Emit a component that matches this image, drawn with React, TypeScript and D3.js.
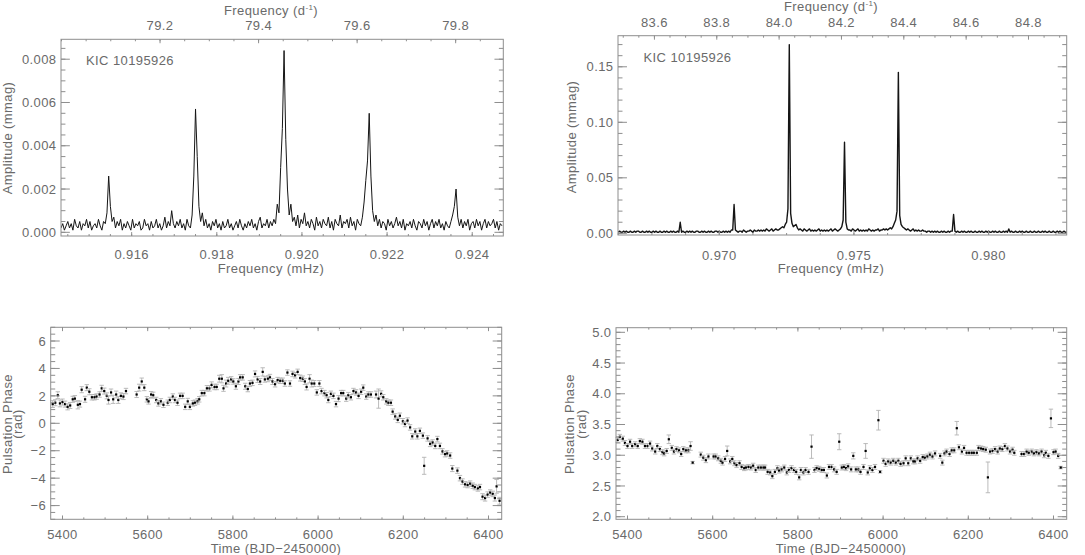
import React from "react";
import * as d3 from "d3";

const TEXT = "#6a6a6a";
const AXIS = "#8e8e8e";
const FONT = "'Liberation Sans', Arial, Helvetica, sans-serif";

// amplitude spectrum around 0.92 mHz, amplitudes in 1e-4 mmag
const spec1Start = 0.91434;
const spec1Step = 0.00004;
const spec1Amp = [
  2, 4, 1, 3, 5, 2, 4, 1, 6, 3, 2, 5, 1, 4, 3, 6, 2, 5, 1, 3, 4, 2, 6, 3, 1, 5,
  4, 9, 26, 12, 5, 7, 2, 5, 3, 6,
  1, 4, 2, 5, 3, 1, 6, 2, 4, 3, 5, 1, 2, 6, 3, 4, 1, 5, 2, 3, 6, 2, 4, 1, 3, 7, 2, 5, 3, 10, 4, 2, 5, 3, 6, 2, 4, 1, 6, 3, 2,
  8, 26, 57, 35, 12, 5, 9,
  3, 6, 2, 4, 1, 5, 3, 6, 2, 4, 1, 5, 2, 3, 6, 2, 4, 1, 3, 5, 2, 6, 3, 1, 4, 2, 5, 3, 6, 2, 4, 1, 5, 7, 2, 4, 3, 6, 2, 5, 3, 6, 4,
  13, 9, 30, 48, 84, 43, 20, 8, 13, 5,
  7, 3, 8, 2, 6, 4, 9, 3, 5, 2, 6, 4, 1, 7, 3, 5, 2, 6, 4, 3, 7, 2, 5, 1, 6, 4, 3, 8, 2, 5, 4, 6, 2, 7, 3, 5, 1, 6, 4, 3,
  7, 14, 24, 33, 55, 26, 10, 5, 8,
  3, 6, 2, 5, 4, 1, 6, 3, 5, 2, 4, 7, 3, 5, 2, 6, 1, 4, 3, 5, 2, 6, 3, 1, 5, 4, 2, 6, 3, 5, 1, 4, 6, 2, 5, 3, 6, 2, 4, 1, 5, 3, 2,
  5, 8, 12, 20, 7, 3,
  6, 2, 5, 3, 6, 1, 4, 5, 2, 6, 3, 5, 1, 4, 6, 2, 5, 3, 4, 6, 2, 5, 1, 4, 3,
];

// amplitude spectrum around 0.975 mHz, amplitudes in 1e-3 mmag
const spec2Start = 0.96625;
const spec2Step = 0.00005;
const spec2Amp = [
  1, 2, 1, 1, 2, 1, 2, 1, 1, 2, 1, 1, 2, 1, 2, 2, 1, 1, 2, 1, 1, 2, 1, 2, 1, 1, 2, 1, 2, 1, 1, 2, 1, 1, 2, 1, 2, 1, 1, 2, 1, 2, 1, 1, 2, 1,
  10,
  1, 2, 1, 1, 2, 1, 2, 1, 2, 1, 1, 2, 2, 1, 1, 2, 1, 2, 1, 1, 2, 1, 2, 1, 1, 2, 2, 1, 2, 1, 1, 2, 1, 2, 1, 2, 1, 3,
  3, 26, 3,
  2, 1, 2, 2, 1, 3, 2, 1, 2, 2, 3, 2, 1, 3, 2, 2, 3, 2, 3, 2, 3, 2, 4, 3, 2, 3, 4, 2, 3, 4, 3,
  3, 4, 5, 6, 5, 8, 10, 22, 170, 18, 9, 6, 7, 8, 5, 3,
  4, 3, 2, 4, 3, 2, 3, 4, 2, 3, 2, 3, 2, 3, 4, 2, 3, 2, 3, 2, 3, 2, 3, 4, 2, 3, 4, 3, 2, 3,
  4, 6, 12, 82, 10, 4, 3,
  3, 2, 4, 3, 2, 3, 4, 2, 3, 2, 3, 2, 3, 2, 4, 3, 2, 3, 2, 3, 3, 4, 2, 3, 3, 4, 3, 4,
  3, 4, 5, 4, 6, 9, 12, 20, 145, 16, 8, 6, 5, 4, 3,
  4, 3, 2, 3, 4, 2, 3, 2, 3, 2, 2, 3, 2, 2, 1, 2, 2, 1, 2, 1, 2, 1, 2, 1, 1, 2, 1, 2, 1, 1, 2, 1, 2,
  2, 17, 2,
  1, 2, 1, 1, 2, 1, 2, 1, 1, 2, 1, 2, 1, 1, 2, 1, 1, 2, 1, 2, 1, 1, 2, 1, 2, 1, 1, 2, 1, 2, 1, 1, 2, 1, 1, 2, 1, 2, 1,
  4,
  1, 2, 1, 1, 2, 1, 1, 2, 1, 2, 1, 1, 2, 1, 1, 2, 1, 1, 2, 1, 1, 2, 1, 1, 2, 1, 2, 1, 1, 2, 1, 1, 2, 1, 1, 2, 1, 2, 1, 1, 2, 1, 1, 2,
];

// pulsation phase vs time: [BJD-2450000, phase (rad), error]
const phase1: [number, number, number][] = [
  [5377, 1.4, 0.25], [5383, 1.5, 0.22], [5389, 2.05, 0.25], [5394, 1.45, 0.25], [5400, 1.55, 0.22], [5406, 1.4, 0.22],
  [5412, 1.2, 0.22], [5418, 1.3, 0.22], [5424, 1.75, 0.22], [5429, 1.8, 0.22], [5436, 1.35, 0.3], [5441, 1.4, 0.22],
  [5445, 2.45, 0.22], [5453, 1.75, 0.22], [5457, 2.6, 0.22], [5463, 2.3, 0.22], [5469, 1.9, 0.2], [5475, 1.9, 0.2],
  [5480, 1.95, 0.2], [5487, 2.1, 0.2], [5492, 2.55, 0.22], [5498, 2.35, 0.22], [5504, 2.0, 0.22], [5508, 1.7, 0.3],
  [5514, 2.25, 0.25], [5519, 1.75, 0.3], [5526, 2.1, 0.25], [5531, 1.7, 0.25], [5537, 2.0, 0.22], [5543, 1.95, 0.22],
  [5549, 2.35, 0.2],
  [5574, 2.1, 0.22], [5580, 2.6, 0.25], [5586, 3.05, 0.25], [5592, 2.6, 0.22], [5598, 1.75, 0.2], [5602, 1.6, 0.2],
  [5608, 2.1, 0.22], [5613, 2.05, 0.22], [5620, 1.7, 0.2], [5625, 1.45, 0.2], [5631, 1.6, 0.2], [5637, 1.35, 0.2],
  [5647, 1.5, 0.2], [5652, 1.7, 0.2], [5659, 1.95, 0.2], [5664, 1.7, 0.2], [5670, 1.5, 0.2], [5676, 2.0, 0.2],
  [5682, 2.0, 0.2], [5688, 1.2, 0.2], [5694, 1.6, 0.22], [5699, 1.2, 0.2], [5706, 1.45, 0.2], [5711, 1.5, 0.2],
  [5717, 1.6, 0.2], [5721, 1.75, 0.2], [5727, 2.2, 0.2], [5733, 2.2, 0.2], [5739, 2.55, 0.2], [5745, 2.55, 0.2],
  [5750, 2.8, 0.22], [5757, 2.65, 0.2], [5762, 2.65, 0.2], [5768, 3.25, 0.25], [5774, 3.25, 0.3], [5778, 2.55, 0.22],
  [5784, 2.9, 0.25], [5789, 3.1, 0.25], [5796, 3.2, 0.2], [5801, 3.05, 0.2], [5807, 2.7, 0.22], [5813, 3.05, 0.22],
  [5817, 3.35, 0.2], [5823, 3.35, 0.2], [5829, 2.7, 0.22], [5835, 2.5, 0.2], [5840, 2.9, 0.22], [5846, 2.95, 0.2],
  [5852, 3.6, 0.22], [5858, 3.2, 0.22], [5864, 3.05, 0.22], [5870, 3.75, 0.3], [5875, 3.2, 0.2], [5882, 3.25, 0.22],
  [5887, 3.35, 0.22], [5893, 3.05, 0.22], [5899, 2.85, 0.2], [5905, 3.15, 0.2], [5911, 3.1, 0.2], [5917, 3.1, 0.2],
  [5922, 2.9, 0.2], [5928, 3.7, 0.2], [5934, 2.9, 0.2], [5940, 3.6, 0.2], [5946, 3.5, 0.2], [5952, 3.75, 0.2],
  [5958, 3.3, 0.22], [5964, 3.25, 0.2], [5969, 3.05, 0.22], [5973, 2.65, 0.22], [5980, 3.25, 0.3], [5985, 2.9, 0.25],
  [5991, 2.9, 0.22], [5997, 2.25, 0.2], [6003, 2.9, 0.22], [6008, 2.35, 0.2], [6015, 2.2, 0.2], [6020, 2.05, 0.2],
  [6024, 1.7, 0.2], [6030, 2.15, 0.2], [6036, 2.0, 0.2], [6042, 1.4, 0.2], [6048, 1.8, 0.22], [6054, 2.2, 0.2],
  [6059, 2.2, 0.2], [6066, 1.8, 0.2], [6071, 2.05, 0.2], [6077, 1.9, 0.2], [6083, 2.35, 0.2], [6089, 2.25, 0.2],
  [6095, 2.0, 0.2], [6101, 2.3, 0.2], [6106, 2.6, 0.2], [6113, 1.95, 0.2], [6118, 2.1, 0.2], [6124, 2.1, 0.2],
  [6136, 2.1, 0.25], [6142, 1.8, 0.7], [6148, 2.15, 0.22], [6153, 1.9, 0.2], [6160, 1.6, 0.2], [6165, 1.5, 0.2],
  [6171, 1.5, 0.2], [6175, 0.85, 0.2], [6181, 0.5, 0.2], [6187, 0.25, 0.2], [6192, 0.55, 0.2], [6199, 0.15, 0.2],
  [6204, -0.05, 0.2], [6210, 0.2, 0.2], [6216, -0.3, 0.2], [6221, -0.95, 0.2], [6228, -0.6, 0.2], [6233, -0.95, 0.2],
  [6239, -0.55, 0.2], [6246, -0.9, 0.2], [6249, -3.1, 0.62], [6257, -1.1, 0.2], [6263, -1.5, 0.2], [6269, -1.4, 0.2],
  [6275, -1.65, 0.2], [6280, -1.15, 0.2], [6286, -1.65, 0.2], [6292, -2.05, 0.2], [6298, -2.25, 0.2], [6303, -2.2, 0.2],
  [6310, -2.35, 0.2], [6315, -3.3, 0.22], [6327, -3.45, 0.2], [6333, -4.0, 0.2], [6339, -4.25, 0.2], [6345, -4.45, 0.2],
  [6351, -4.5, 0.2], [6357, -4.4, 0.2], [6363, -4.55, 0.2], [6368, -4.65, 0.2], [6375, -4.75, 0.2], [6380, -4.65, 0.2],
  [6386, -5.35, 0.22], [6392, -5.45, 0.22], [6398, -5.2, 0.2], [6404, -5.05, 0.2], [6410, -5.15, 0.2], [6415, -5.45, 0.22],
  [6419, -4.6, 0.5], [6426, -5.65, 0.25],
];

const phase2: [number, number, number][] = [
  [5377, 3.25, 0.04], [5382, 3.3, 0.04], [5389, 3.27, 0.04], [5394, 3.2, 0.04], [5400, 3.15, 0.04], [5406, 3.22, 0.04],
  [5411, 3.15, 0.04], [5418, 3.18, 0.04], [5424, 3.15, 0.04], [5429, 3.23, 0.04], [5435, 3.22, 0.04], [5441, 3.15, 0.04],
  [5447, 3.15, 0.04], [5453, 3.19, 0.04], [5458, 3.11, 0.04], [5465, 3.06, 0.04], [5470, 3.15, 0.04], [5476, 3.1, 0.04],
  [5482, 3.05, 0.04], [5486, 3.03, 0.04], [5492, 3.07, 0.04], [5497, 3.26, 0.07], [5504, 3.12, 0.04], [5509, 3.06, 0.04],
  [5515, 3.1, 0.04], [5521, 3.08, 0.04], [5526, 3.02, 0.04], [5531, 3.1, 0.04], [5537, 3.08, 0.04], [5543, 3.08, 0.04],
  [5548, 3.15, 0.07], [5553, 2.88, 0.02],
  [5572, 3.01, 0.04], [5578, 2.96, 0.04], [5584, 2.92, 0.04], [5590, 2.98, 0.04], [5602, 2.98, 0.04], [5607, 2.98, 0.04],
  [5613, 2.95, 0.04], [5619, 2.91, 0.04], [5623, 2.88, 0.04], [5629, 2.94, 0.04], [5634, 3.07, 0.08], [5641, 2.9, 0.04],
  [5646, 2.94, 0.04], [5651, 2.87, 0.04], [5656, 2.84, 0.04], [5663, 2.87, 0.04], [5668, 2.81, 0.04], [5674, 2.79, 0.04],
  [5678, 2.8, 0.04], [5684, 2.81, 0.04], [5690, 2.8, 0.04], [5695, 2.83, 0.04], [5701, 2.76, 0.04], [5707, 2.8, 0.04],
  [5713, 2.8, 0.04], [5719, 2.8, 0.04], [5723, 2.8, 0.04], [5729, 2.73, 0.04], [5735, 2.72, 0.04], [5740, 2.66, 0.04],
  [5746, 2.73, 0.04], [5752, 2.79, 0.04], [5756, 2.75, 0.04], [5762, 2.77, 0.04], [5768, 2.8, 0.04], [5774, 2.72, 0.04],
  [5779, 2.76, 0.04], [5785, 2.79, 0.04], [5791, 2.76, 0.04], [5796, 2.73, 0.04], [5803, 2.64, 0.04], [5807, 2.76, 0.04],
  [5813, 2.72, 0.04], [5818, 2.76, 0.04], [5825, 2.73, 0.04], [5832, 3.14, 0.19], [5839, 2.76, 0.04], [5844, 2.79, 0.04],
  [5850, 2.78, 0.04], [5856, 2.76, 0.04], [5861, 2.76, 0.04], [5868, 2.67, 0.04], [5873, 2.81, 0.04], [5879, 2.81, 0.04],
  [5885, 2.77, 0.04], [5891, 2.73, 0.04], [5897, 3.22, 0.13], [5903, 2.8, 0.04], [5908, 2.81, 0.04], [5913, 2.79, 0.04],
  [5918, 2.82, 0.04], [5925, 2.77, 0.04], [5930, 2.99, 0.05], [5936, 2.77, 0.04], [5942, 2.77, 0.04], [5947, 2.73, 0.04],
  [5954, 2.81, 0.04], [5959, 3.07, 0.12], [5964, 2.72, 0.04], [5969, 2.79, 0.04], [5975, 2.76, 0.04], [5981, 2.81, 0.04],
  [5989, 3.57, 0.16], [5993, 2.73, 0.02], [6001, 2.91, 0.04], [6006, 2.86, 0.04], [6012, 2.9, 0.04], [6018, 2.88, 0.04],
  [6024, 2.91, 0.04], [6030, 2.88, 0.04], [6036, 2.91, 0.04], [6041, 2.86, 0.04], [6048, 2.87, 0.04], [6053, 2.95, 0.04],
  [6059, 2.87, 0.04], [6065, 2.95, 0.04], [6071, 2.9, 0.04], [6075, 2.9, 0.04], [6081, 2.95, 0.04], [6087, 2.91, 0.04],
  [6093, 2.97, 0.04], [6098, 2.96, 0.04], [6104, 2.98, 0.04], [6110, 3.01, 0.04], [6116, 2.98, 0.04], [6122, 3.03, 0.04],
  [6134, 2.99, 0.04], [6139, 2.88, 0.04], [6144, 3.03, 0.04], [6149, 3.06, 0.04], [6156, 3.02, 0.04], [6161, 3.08, 0.04],
  [6167, 3.08, 0.04], [6173, 3.44, 0.11], [6178, 3.13, 0.04], [6185, 3.06, 0.04], [6190, 3.12, 0.04], [6196, 3.04, 0.04],
  [6202, 3.04, 0.04], [6208, 3.04, 0.04], [6213, 3.04, 0.04], [6220, 3.04, 0.04], [6224, 3.12, 0.04], [6230, 3.11, 0.04],
  [6235, 3.1, 0.04], [6241, 3.09, 0.04], [6246, 2.64, 0.25], [6251, 3.06, 0.04], [6257, 3.07, 0.04], [6263, 3.1, 0.04],
  [6269, 3.06, 0.04], [6274, 3.11, 0.04], [6280, 3.1, 0.04], [6286, 3.15, 0.04], [6292, 3.11, 0.04], [6298, 3.06, 0.04],
  [6304, 3.09, 0.04], [6308, 3.04, 0.04],
  [6325, 3.02, 0.04], [6331, 3.02, 0.04], [6337, 3.06, 0.04], [6342, 3.04, 0.04], [6349, 3.06, 0.04], [6354, 3.03, 0.04],
  [6360, 3.05, 0.04], [6366, 3.03, 0.04], [6372, 3.06, 0.04], [6378, 3.0, 0.04], [6382, 3.04, 0.04], [6388, 2.99, 0.04],
  [6394, 3.6, 0.15], [6400, 3.05, 0.04], [6405, 3.06, 0.04], [6411, 2.99, 0.04], [6417, 2.8, 0.02],
];

// tick values
const f1Ticks = [0.916, 0.918, 0.92, 0.922, 0.924];
const d1Ticks = [79.2, 79.4, 79.6, 79.8];
const a1Ticks = [0, 0.002, 0.004, 0.006, 0.008];
const f2Ticks = [0.97, 0.975, 0.98];
const d2Ticks = [83.6, 83.8, 84.0, 84.2, 84.4, 84.6, 84.8];
const a2Ticks = [0, 0.05, 0.1, 0.15];
const tTicks = [5400, 5600, 5800, 6000, 6200, 6400];
const p1Ticks = [-6, -4, -2, 0, 2, 4, 6];
const p2Ticks = [2.0, 2.5, 3.0, 3.5, 4.0, 4.5, 5.0];

const MHZ_TO_CD = 86.4;

type Box = { l: number; r: number; t: number; b: number };
type Lin = d3.ScaleLinear<number, number>;

function minors(scale: Lin, step: number) {
  const [a, b] = scale.domain();
  const lo = Math.min(a, b), hi = Math.max(a, b);
  const out: number[] = [];
  for (let k = Math.ceil(lo / step - 1e-6); k <= Math.floor(hi / step + 1e-6); k++) out.push(k * step);
  return out;
}

const txt = { fill: TEXT, fontFamily: FONT, fontSize: 13, letterSpacing: 0.4 } as const;

function FreqTitle({ x, y }: { x: number; y: number }) {
  return (
    <text x={x} y={y} textAnchor="middle" {...txt}>
      Frequency (d<tspan fontSize={8} dy={-5}>-1</tspan>
      <tspan dy={5}>)</tspan>
    </text>
  );
}

function Panel(props: {
  box: Box; x: Lin; y: Lin; xTicks: number[]; xMinor: number; yTicks: number[]; yMinor: number;
  xFmt: (v: number) => string; yFmt: (v: number) => string; xLabelY: number;
  top?: { scale: Lin; ticks: number[]; minor: number; labelY: number };
}) {
  const { box, x, y, top } = props;
  const w = box.r - box.l, h = box.b - box.t;
  const yLen = 0.02 * w, xLen = 0.02 * h;
  const tl = { stroke: AXIS, strokeWidth: 1 };
  const topScale = top ? top.scale : x;
  const topTicks = top ? top.ticks : props.xTicks;
  const topMinor = top ? top.minor : props.xMinor;
  return (
    <g>
      <rect x={box.l} y={box.t} width={w} height={h} fill="none" stroke={AXIS} strokeWidth={1} />
      {minors(y, props.yMinor).map((v, i) => (
        <g key={"ym" + i}>
          <line x1={box.l} x2={box.l + yLen / 2} y1={y(v)} y2={y(v)} {...tl} />
          <line x1={box.r} x2={box.r - yLen / 2} y1={y(v)} y2={y(v)} {...tl} />
        </g>
      ))}
      {props.yTicks.map((v, i) => (
        <g key={"y" + i}>
          <line x1={box.l} x2={box.l + yLen} y1={y(v)} y2={y(v)} {...tl} />
          <line x1={box.r} x2={box.r - yLen} y1={y(v)} y2={y(v)} {...tl} />
          <text x={box.l - 4.5} y={y(v)} dy="0.36em" textAnchor="end" {...txt}>{props.yFmt(v)}</text>
        </g>
      ))}
      {minors(x, props.xMinor).map((v, i) => (
        <line key={"xm" + i} x1={x(v)} x2={x(v)} y1={box.b} y2={box.b - xLen / 2} {...tl} />
      ))}
      {props.xTicks.map((v, i) => (
        <g key={"x" + i}>
          <line x1={x(v)} x2={x(v)} y1={box.b} y2={box.b - xLen} {...tl} />
          <text x={x(v)} y={props.xLabelY} textAnchor="middle" {...txt}>{props.xFmt(v)}</text>
        </g>
      ))}
      {minors(topScale, topMinor).map((v, i) => (
        <line key={"tm" + i} x1={topScale(v)} x2={topScale(v)} y1={box.t} y2={box.t + xLen / 2} {...tl} />
      ))}
      {topTicks.map((v, i) => (
        <g key={"t" + i}>
          <line x1={topScale(v)} x2={topScale(v)} y1={box.t} y2={box.t + xLen} {...tl} />
          {top && (
            <text x={topScale(v)} y={top.labelY} textAnchor="middle" {...txt}>{v.toFixed(1)}</text>
          )}
        </g>
      ))}
    </g>
  );
}

function Spectrum(props: { box: Box; x: Lin; y: Lin; start: number; step: number; amp: number[]; unit: number; width: number; id: string }) {
  const { box, x, y } = props;
  const line = d3
    .line<number>()
    .x((_, i) => x(props.start + i * props.step))
    .y((d) => y(d * props.unit));
  return (
    <g>
      <clipPath id={props.id}>
        <rect x={box.l} y={box.t - 2} width={box.r - box.l} height={box.b - box.t + 4} />
      </clipPath>
      <path d={line(props.amp) || ""} fill="none" stroke="#151515" strokeWidth={props.width} strokeLinejoin="round" clipPath={`url(#${props.id})`} />
    </g>
  );
}

function Phases({ data, x, y }: { data: [number, number, number][]; x: Lin; y: Lin }) {
  return (
    <g>
      {data.map(([t, p, e], i) => {
        const cx = x(t), lo = y(p - e), hi = y(p + e);
        return (
          <g key={i}>
            <line x1={cx} x2={cx} y1={lo} y2={hi} stroke="#b3b3b3" strokeWidth={0.9} />
            <line x1={cx - 2.2} x2={cx + 2.2} y1={lo} y2={lo} stroke="#b3b3b3" strokeWidth={0.9} />
            <line x1={cx - 2.2} x2={cx + 2.2} y1={hi} y2={hi} stroke="#b3b3b3" strokeWidth={0.9} />
            <rect x={cx - 1.1} y={y(p) - 1.1} width={2.2} height={2.2} fill="#000" />
          </g>
        );
      })}
    </g>
  );
}

const minus = (v: number) => (v < 0 ? "\u2212" + Math.abs(v) : String(v));

export default function App() {
  // top left: spectrum near 0.92 mHz
  const b1: Box = { l: 61, r: 503.3, t: 39.3, b: 236 };
  const x1 = d3.scaleLinear().domain([0.91434, 0.92473]).range([b1.l, b1.r]);
  const x1d = d3.scaleLinear().domain([0.91434 * MHZ_TO_CD, 0.92473 * MHZ_TO_CD]).range([b1.l, b1.r]);
  const y1 = d3.scaleLinear().domain([-0.00017, 0.00892]).range([b1.b, b1.t]);

  // top right: spectrum near 0.975 mHz
  const b2: Box = { l: 618, r: 1066.7, t: 35.7, b: 235 };
  const x2 = d3.scaleLinear().domain([0.96624, 0.9829]).range([b2.l, b2.r]);
  const x2d = d3.scaleLinear().domain([0.96624 * MHZ_TO_CD, 0.9829 * MHZ_TO_CD]).range([b2.l, b2.r]);
  const y2 = d3.scaleLinear().domain([-0.0015, 0.178]).range([b2.b, b2.t]);

  // bottom left / right: phases
  const b3: Box = { l: 50.7, r: 501.7, t: 327.3, b: 519.3 };
  const x3 = d3.scaleLinear().domain([5372.3, 6431]).range([b3.l, b3.r]);
  const y3 = d3.scaleLinear().domain([-7, 7]).range([b3.b, b3.t]);

  const b4: Box = { l: 616, r: 1066.7, t: 327.7, b: 519.3 };
  const x4 = d3.scaleLinear().domain([5373, 6431]).range([b4.l, b4.r]);
  const y4 = d3.scaleLinear().domain([1.958, 5.075]).range([b4.b, b4.t]);

  return (
    <svg width={1085} height={555} style={{ position: "absolute", left: 0, top: 0, background: "#fff" }}>
      <rect width={1085} height={555} fill="#fff" />

      <Spectrum box={b1} x={x1} y={y1} start={spec1Start} step={spec1Step} amp={spec1Amp} unit={1e-4} width={1} id="c1" />
      <Panel box={b1} x={x1} y={y1} xTicks={f1Ticks} xMinor={0.0005} yTicks={a1Ticks} yMinor={0.0005}
        xFmt={(v) => v.toFixed(3)} yFmt={(v) => v.toFixed(3)} xLabelY={259}
        top={{ scale: x1d, ticks: d1Ticks, minor: 0.05, labelY: 30 }} />
      <FreqTitle x={271} y={15.3} />
      <text x={271} y={272.5} textAnchor="middle" {...txt}>Frequency (mHz)</text>
      <text transform="translate(11.5,138) rotate(-90)" textAnchor="middle" {...txt}>Amplitude (mmag)</text>
      <text x={86} y={65} {...txt}>KIC 10195926</text>

      <Spectrum box={b2} x={x2} y={y2} start={spec2Start} step={spec2Step} amp={spec2Amp} unit={1e-3} width={1.4} id="c2" />
      <Panel box={b2} x={x2} y={y2} xTicks={f2Ticks} xMinor={0.00125} yTicks={a2Ticks} yMinor={0.01}
        xFmt={(v) => v.toFixed(3)} yFmt={(v) => v.toFixed(2)} xLabelY={259.5}
        top={{ scale: x2d, ticks: d2Ticks, minor: 0.05, labelY: 26.7 }} />
      <FreqTitle x={831} y={11} />
      <text x={831} y={272.5} textAnchor="middle" {...txt}>Frequency (mHz)</text>
      <text transform="translate(576,137) rotate(-90)" textAnchor="middle" {...txt}>Amplitude (mmag)</text>
      <text x={643.5} y={61.7} {...txt}>KIC 10195926</text>

      <Phases data={phase1} x={x3} y={y3} />
      <Panel box={b3} x={x3} y={y3} xTicks={tTicks} xMinor={50} yTicks={p1Ticks} yMinor={0.5}
        xFmt={(v) => String(v)} yFmt={minus} xLabelY={538.5} />
      <text x={276} y={552.5} textAnchor="middle" {...txt}>Time (BJD{"\u2212"}2450000)</text>
      <text transform="translate(11.5,424) rotate(-90)" textAnchor="middle" {...txt}>Pulsation Phase</text>
      <text transform="translate(22,424) rotate(-90)" textAnchor="middle" {...txt}>(rad)</text>

      <Phases data={phase2} x={x4} y={y4} />
      <Panel box={b4} x={x4} y={y4} xTicks={tTicks} xMinor={50} yTicks={p2Ticks} yMinor={0.1}
        xFmt={(v) => String(v)} yFmt={(v) => v.toFixed(1)} xLabelY={538.5} />
      <text x={841} y={552.5} textAnchor="middle" {...txt}>Time (BJD{"\u2212"}2450000)</text>
      <text transform="translate(574,424) rotate(-90)" textAnchor="middle" {...txt}>Pulsation Phase</text>
      <text transform="translate(586,424) rotate(-90)" textAnchor="middle" {...txt}>(rad)</text>
    </svg>
  );
}
